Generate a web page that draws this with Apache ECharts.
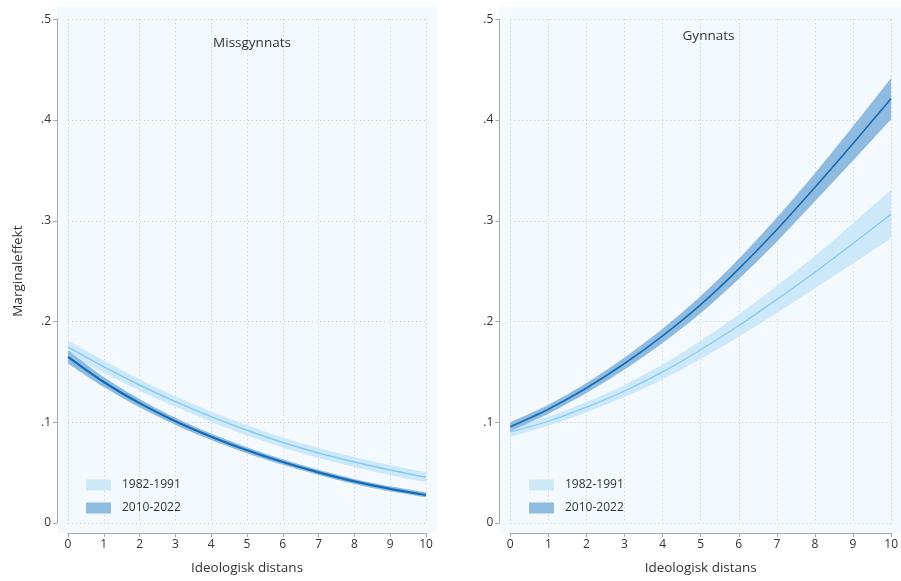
<!DOCTYPE html>
<html>
<head>
<meta charset="utf-8">
<script src="https://cdn.jsdelivr.net/npm/echarts@6/dist/echarts.min.js"></script>
<style>
html,body{margin:0;padding:0;background:#fff;}
#c{width:901px;height:581px;}
</style>
</head>
<body>
<div id="c"></div>
<script>
// ---- data ----
const xVals = [0, 1, 2, 3, 4, 5, 6, 7, 8, 9, 10];
const yTicks = [0, 0.1, 0.2, 0.3, 0.4, 0.5];
const periods = ['1982-1991', '2010-2022'];
const panelTitles = ['Missgynnats', 'Gynnats'];

// Missgynnats (left)
const missEarly   = [0.1745, 0.155, 0.137, 0.1205, 0.1056, 0.092, 0.0799, 0.0695, 0.0606, 0.0526, 0.0454];
const missEarlyCI = [0.007, 0.0062, 0.0056, 0.0052, 0.005, 0.005, 0.005, 0.005, 0.005, 0.005, 0.005];
const missLate    = [0.165, 0.140, 0.119, 0.101, 0.0857, 0.0723, 0.0606, 0.0503, 0.0413, 0.0339, 0.0278];
const missLateCI  = [0.0066, 0.005, 0.0042, 0.0036, 0.0032, 0.003, 0.0028, 0.0026, 0.0025, 0.0025, 0.0025];

// Gynnats (right)
const gynEarly    = [0.0905, 0.101, 0.115, 0.131, 0.150, 0.172, 0.196, 0.222, 0.249, 0.2775, 0.3067];
const gynEarlyCI  = [0.005, 0.0045, 0.005, 0.006, 0.0075, 0.009, 0.011, 0.0135, 0.016, 0.020, 0.024];
const gynLate     = [0.0956, 0.113, 0.134, 0.1583, 0.1858, 0.2168, 0.2523, 0.2913, 0.3333, 0.3768, 0.4213];
const gynLateCI   = [0.0045, 0.0045, 0.005, 0.006, 0.007, 0.0085, 0.010, 0.012, 0.014, 0.017, 0.0204];

// ---- styles ----
const FONT = '"Open Sans", "Noto Sans", sans-serif';
const BAND_LIGHT = '#cde8f8';
const BAND_DARK = '#8fbbe1';
const LINE_LIGHT = '#86cbef';
const LINE_DARK = '#146cb4';
const BG = '#f4f9fd';
const AXIS = '#a8a8a8';
const TXT = '#333';

const chart = echarts.init(document.getElementById('c'), null, {renderer: 'canvas'});

function lower(est, ci) { return est.map((v, i) => v - ci[i]); }
function width(ci) { return ci.map(v => 2 * v); }

function bandSeries(idx, stackName, est, ci, name, color) {
  return [
    {
      type: 'line', name: stackName + '_low', xAxisIndex: idx, yAxisIndex: idx,
      stack: stackName, data: lower(est, ci), smooth: 0.3,
      symbol: 'none', lineStyle: {opacity: 0}, silent: true, z: 1
    },
    {
      type: 'line', name: name, xAxisIndex: idx, yAxisIndex: idx,
      stack: stackName, data: width(ci), smooth: 0.3,
      symbol: 'none', lineStyle: {opacity: 0}, itemStyle: {color: color},
      areaStyle: {color: color, opacity: 1}, silent: true, z: 1
    }
  ];
}
function lineSeries(idx, est, color, w, name) {
  return {
    type: 'line', name: name, xAxisIndex: idx, yAxisIndex: idx,
    data: est, smooth: 0.3, symbol: 'none',
    lineStyle: {color: color, width: w}, itemStyle: {color: color}, z: 3
  };
}

const grids = [
  {left: 68, top: 19.3, width: 358, height: 503.7},
  {left: 510.3, top: 19.3, width: 386.4, height: 503.7}
];

function yLabel(v) {
  if (v === 0) return '0';
  return v.toFixed(1).replace(/^0/, '');
}

const xAxes = grids.map((g, i) => ({
  type: 'category', gridIndex: i, data: xVals.map(String), boundaryGap: false,
  offset: 10,
  name: 'Ideologisk distans', nameLocation: 'middle', nameGap: 28,
  nameTextStyle: {fontFamily: FONT, fontSize: 13.5, color: TXT},
  axisLine: {show: true, onZero: false, lineStyle: {color: AXIS, width: 1}},
  axisTick: {show: true, length: 4, lineStyle: {color: AXIS}},
  axisLabel: {fontFamily: FONT, fontSize: 12, color: TXT, margin: 6, interval: 0},
  splitLine: {show: true, interval: 0, lineStyle: {color: '#c4c8cc', type: [1, 3], width: 1}}
}));

const yAxes = grids.map((g, i) => ({
  type: 'value', gridIndex: i, min: 0, max: 0.5, interval: 0.1,
  offset: 11,
  name: i === 0 ? 'Marginaleffekt' : '', nameLocation: 'middle', nameGap: 32,
  nameTextStyle: {fontFamily: FONT, fontSize: 13.5, color: TXT},
  axisLine: {show: true, lineStyle: {color: AXIS, width: 1}},
  axisTick: {show: true, length: 4, lineStyle: {color: AXIS}},
  axisLabel: {fontFamily: FONT, fontSize: 12, color: TXT, margin: 6, formatter: yLabel},
  splitLine: {show: true, lineStyle: {color: '#c4c8cc', type: [1, 3], width: 1}}
}));

const series = [].concat(
  bandSeries(0, 'L1', missEarly, missEarlyCI, periods[0], BAND_LIGHT),
  bandSeries(0, 'L2', missLate, missLateCI, periods[1], BAND_DARK),
  [lineSeries(0, missEarly, LINE_LIGHT, 1.5, 'lineL1'), lineSeries(0, missLate, LINE_DARK, 2.2, 'lineL2')],
  bandSeries(1, 'R1', gynEarly, gynEarlyCI, periods[0], BAND_LIGHT),
  bandSeries(1, 'R2', gynLate, gynLateCI, periods[1], BAND_DARK),
  [lineSeries(1, gynEarly, LINE_LIGHT, 1.3, 'lineR1'), lineSeries(1, gynLate, LINE_DARK, 1.6, 'lineR2')]
);

function legendAt(left) {
  return {
    orient: 'vertical', left: left, top: 474, itemWidth: 25, itemHeight: 11,
    itemGap: 11, icon: 'rect', selectedMode: false,
    textStyle: {fontFamily: FONT, fontSize: 12, color: TXT, padding: [0, 0, 0, 6]},
    data: [
      {name: periods[0], itemStyle: {color: BAND_LIGHT}},
      {name: periods[1], itemStyle: {color: BAND_DARK}}
    ]
  };
}

chart.setOption({
  animation: false,
  backgroundColor: '#ffffff',
  graphic: [
    {type: 'rect', shape: {x: 57, y: 7, width: 380, height: 526}, style: {fill: BG}, z: -10, silent: true},
    {type: 'rect', shape: {x: 499, y: 7, width: 402, height: 526}, style: {fill: BG}, z: -10, silent: true}
  ],
  title: [
    {text: panelTitles[0], left: 247, top: 31, textAlign: 'center',
     textStyle: {fontFamily: FONT, fontSize: 13.5, fontWeight: 'normal', color: TXT}},
    {text: panelTitles[1], left: 703.5, top: 24, textAlign: 'center',
     textStyle: {fontFamily: FONT, fontSize: 13.5, fontWeight: 'normal', color: TXT}}
  ],
  legend: [legendAt(81), legendAt(524)],
  grid: grids,
  xAxis: xAxes,
  yAxis: yAxes,
  series: series
});
</script>
</body>
</html>
